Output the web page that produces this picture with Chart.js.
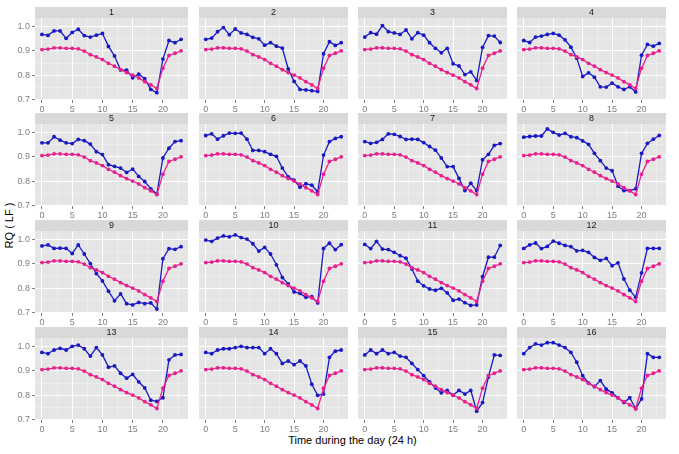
<!DOCTYPE html>
<html>
<head>
<meta charset="utf-8">
<script src="https://cdn.jsdelivr.net/npm/chart.js@4.4.0/dist/chart.umd.min.js"></script>
<style>
  body { margin: 0; background: #fff; width: 679px; height: 454px; position: relative; overflow: hidden; font-family: "Liberation Sans", Arial, sans-serif; }
  canvas { position: absolute; }
  #ytitle { position: absolute; left: -21px; top: 219px; width: 60px; height: 13px; line-height: 13px; text-align: center; transform: rotate(-90deg); font-size: 11px; color: #000; }
  #xtitle { position: absolute; left: 35px; width: 635px; top: 434px; height: 13px; line-height: 13px; text-align: center; font-size: 11px; color: #000; }
</style>
</head>
<body>
<div id="ytitle">RQ ( LF )</div>
<div id="xtitle">Time during the day (24 h)</div>
<script>
// hour of the day
const hours = [0,1,2,3,4,5,6,7,8,9,10,11,12,13,14,15,16,17,18,19,20,21,22,23];

// model curve (pink), same in every panel
const fitted = [0.905,0.907,0.912,0.912,0.910,0.910,0.908,0.899,0.884,0.875,0.864,0.849,0.837,0.823,0.811,0.801,0.789,0.774,0.761,0.746,0.829,0.881,0.890,0.900];

// measured RQ per subject (blue)
const rq1  = [0.967,0.963,0.981,0.981,0.951,0.975,0.988,0.962,0.956,0.964,0.971,0.918,0.879,0.822,0.821,0.790,0.805,0.786,0.742,0.729,0.866,0.942,0.933,0.947];
const rq2  = [0.947,0.952,0.978,0.995,0.966,0.989,0.973,0.967,0.955,0.949,0.923,0.933,0.919,0.911,0.826,0.775,0.742,0.740,0.737,0.734,0.888,0.937,0.922,0.933];
const rq3  = [0.956,0.974,0.968,1.003,0.978,0.973,0.967,0.985,0.949,0.974,0.964,0.933,0.910,0.892,0.910,0.847,0.838,0.803,0.814,0.779,0.914,0.962,0.960,0.934];
const rq4  = [0.942,0.934,0.956,0.960,0.967,0.971,0.964,0.945,0.915,0.870,0.795,0.810,0.792,0.753,0.752,0.768,0.753,0.742,0.753,0.732,0.882,0.926,0.919,0.930];
const rq5  = [0.957,0.957,0.982,0.968,0.957,0.954,0.971,0.966,0.952,0.921,0.909,0.868,0.861,0.854,0.836,0.850,0.820,0.799,0.769,0.748,0.895,0.935,0.962,0.966];
const rq6  = [0.987,0.994,0.972,0.986,0.997,0.996,0.997,0.972,0.926,0.926,0.921,0.910,0.902,0.854,0.818,0.805,0.776,0.790,0.784,0.757,0.907,0.962,0.975,0.982];
const rq7  = [0.962,0.955,0.959,0.971,0.994,0.992,0.983,0.971,0.972,0.971,0.958,0.942,0.927,0.895,0.860,0.860,0.812,0.762,0.792,0.762,0.888,0.910,0.947,0.954];
const rq8  = [0.980,0.983,0.985,0.985,1.014,1.000,0.989,0.996,0.982,0.978,0.965,0.951,0.914,0.884,0.854,0.843,0.780,0.762,0.762,0.769,0.914,0.955,0.972,0.987];
const rq9  = [0.973,0.977,0.963,0.964,0.963,0.942,0.977,0.940,0.901,0.860,0.830,0.788,0.749,0.777,0.737,0.732,0.742,0.737,0.740,0.715,0.921,0.962,0.959,0.970];
const rq10 = [0.997,0.992,1.005,1.014,1.010,1.018,1.007,1.001,0.982,0.952,0.967,0.940,0.896,0.844,0.818,0.785,0.779,0.763,0.766,0.740,0.963,0.984,0.958,0.978];
const rq11 = [0.979,0.962,0.992,0.960,0.958,0.947,0.933,0.923,0.879,0.829,0.810,0.797,0.792,0.800,0.781,0.751,0.756,0.741,0.730,0.732,0.848,0.927,0.927,0.975];
const rq12 = [0.963,0.977,0.985,0.962,0.971,0.993,0.984,0.975,0.970,0.953,0.955,0.947,0.926,0.914,0.922,0.892,0.904,0.838,0.792,0.763,0.863,0.963,0.963,0.963];
const rq13 = [0.975,0.970,0.985,0.992,0.985,1.000,1.005,0.990,0.960,0.995,0.965,0.915,0.920,0.890,0.870,0.885,0.855,0.830,0.780,0.775,0.790,0.945,0.965,0.967];
const rq14 = [0.975,0.970,0.985,0.990,0.990,0.995,1.000,0.995,0.995,0.995,0.970,0.990,0.970,0.930,0.940,0.925,0.940,0.920,0.845,0.800,0.805,0.955,0.980,0.985];
const rq15 = [0.965,0.985,0.970,0.985,0.970,0.975,0.960,0.955,0.930,0.905,0.880,0.855,0.830,0.810,0.820,0.800,0.820,0.805,0.820,0.735,0.770,0.875,0.965,0.963];
const rq16 = [0.970,0.995,1.010,1.005,1.015,1.015,1.005,0.995,0.975,0.935,0.880,0.850,0.835,0.860,0.825,0.810,0.790,0.770,0.790,0.745,0.785,0.970,0.955,0.955];

const subjects = [rq1,rq2,rq3,rq4,rq5,rq6,rq7,rq8,rq9,rq10,rq11,rq12,rq13,rq14,rq15,rq16];

const xTicks = [0,2.5,5,7.5,10,12.5,15,17.5,20,22.5];
const yTicks = [0.7,0.75,0.8,0.85,0.9,0.95,1.0];
const yLabels = ['0.7','','0.8','','0.9','','1.0'];

const colLeft = [35, 195, 354, 513];
const panelW = 157;
const STRIP = 11;
const XAXIS_H = 14;
const YAXIS_W = 35;

const facetPlugin = {
    id: 'facet',
    beforeDraw(chart, args, opts) {
        const ctx = chart.ctx;
        const a = chart.chartArea;
        ctx.save();
        ctx.fillStyle = '#d9d9d9';
        ctx.fillRect(a.left, a.top - STRIP, a.right - a.left, STRIP);
        ctx.fillStyle = '#e5e5e5';
        ctx.fillRect(a.left, a.top, a.right - a.left, a.bottom - a.top);
        ctx.fillStyle = '#1a1a1a';
        ctx.font = '9px "Liberation Sans", Arial, sans-serif';
        ctx.textAlign = 'center';
        ctx.textBaseline = 'middle';
        ctx.fillText(opts.label, (a.left + a.right) / 2, a.top - STRIP / 2 + 0.5);
        ctx.restore();
    }
};

function toPoints(vals) {
    return hours.map((h, i) => ({ x: h, y: vals[i] }));
}

function gridColor(ctx) {
    return ctx.index % 2 === 0 ? '#ffffff' : '#f2f2f2';
}

subjects.forEach((vals, k) => {
    const r = Math.floor(k / 4);
    const c = k % 4;
    const first = c === 0;

    const canvas = document.createElement('canvas');
    const w = panelW + (first ? YAXIS_W : 0);
    const h = STRIP + 82 + XAXIS_H;
    canvas.width = w;
    canvas.height = h;
    canvas.style.left = (colLeft[c] - (first ? YAXIS_W : 0)) + 'px';
    canvas.style.top = Math.round(6.5 + r * 106.7) + 'px';
    canvas.style.width = w + 'px';
    canvas.style.height = h + 'px';
    document.body.appendChild(canvas);

    new Chart(canvas.getContext('2d'), {
        type: 'line',
        data: {
            datasets: [
                {
                    label: 'model',
                    data: toPoints(fitted),
                    borderColor: '#e8208c',
                    backgroundColor: '#e8208c',
                    borderWidth: 1.3,
                    pointRadius: 1.9,
                    pointBorderWidth: 0
                },
                {
                    label: 'RQ',
                    data: toPoints(vals),
                    borderColor: '#1818c4',
                    backgroundColor: '#1818c4',
                    borderWidth: 1.3,
                    pointRadius: 1.9,
                    pointBorderWidth: 0
                }
            ]
        },
        options: {
            responsive: false,
            animation: false,
            devicePixelRatio: 1,
            layout: { padding: { top: STRIP, left: 0, right: 0, bottom: 0 } },
            plugins: {
                legend: { display: false },
                tooltip: { enabled: false },
                facet: { label: String(k + 1) }
            },
            scales: {
                x: {
                    type: 'linear',
                    min: -1.15,
                    max: 24.15,
                    afterBuildTicks: s => { s.ticks = xTicks.map(v => ({ value: v })); },
                    afterFit: s => { s.height = XAXIS_H; },
                    border: { display: false },
                    grid: {
                        color: gridColor,
                        lineWidth: ctx => ctx.index % 2 === 0 ? 1 : 0.6,
                        drawTicks: true,
                        tickLength: 3,
                        tickColor: ctx => ctx.index % 2 === 0 ? '#7f7f7f' : 'rgba(0,0,0,0)'
                    },
                    ticks: {
                        autoSkip: false,
                        maxRotation: 0,
                        padding: 1,
                        color: '#7f7f7f',
                        font: { family: '"Liberation Sans", Arial, sans-serif', size: 9 },
                        callback: (v, i) => (i % 2 === 0 ? String(xTicks[i]) : '')
                    }
                },
                y: {
                    type: 'linear',
                    min: 0.699,
                    max: 1.034,
                    afterBuildTicks: s => { s.ticks = yTicks.map(v => ({ value: v })); },
                    afterFit: s => { s.width = first ? YAXIS_W : 0; },
                    border: { display: false },
                    grid: {
                        color: gridColor,
                        lineWidth: ctx => ctx.index % 2 === 0 ? 1 : 0.6,
                        drawTicks: first,
                        tickLength: 3,
                        tickColor: ctx => ctx.index % 2 === 0 ? '#7f7f7f' : 'rgba(0,0,0,0)'
                    },
                    ticks: {
                        display: first,
                        autoSkip: false,
                        padding: 2,
                        color: '#7f7f7f',
                        font: { family: '"Liberation Sans", Arial, sans-serif', size: 9 },
                        callback: (v, i) => yLabels[i]
                    }
                }
            }
        },
        plugins: [facetPlugin]
    });
});
</script>
</body>
</html>
